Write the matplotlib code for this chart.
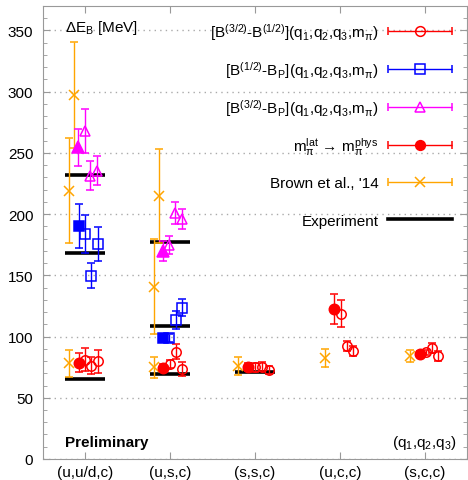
import numpy as np
import matplotlib
matplotlib.use("Agg")
import matplotlib.pyplot as plt
from matplotlib.lines import Line2D
from matplotlib.legend import Legend
from matplotlib.container import ErrorbarContainer
from matplotlib.legend_handler import HandlerErrorbar
from matplotlib.ticker import MultipleLocator

plt.rcParams['font.family'] = ['Liberation Sans', 'DejaVu Sans']
plt.rcParams['mathtext.default'] = 'regular'
plt.rcParams['font.size'] = 11

groups = ["(u,u/d,c)", "(u,s,c)", "(s,s,c)", "(u,c,c)", "(s,c,c)"]

# [B(3/2)-B(1/2)] open red circles
hs_x = [0.99, 1.07, 1.15, 2.00, 2.07, 2.14, 3.00, 3.08, 3.16, 4.01, 4.09, 4.16, 5.02, 5.09, 5.16]
hs_y = [81.1, 76.2, 79.8, 77.6, 87.7, 73.5, 74.9, 75.4, 72.7, 118.5, 92.0, 88.0, 87.2, 90.7, 84.4]
hs_e = [9.5, 7.0, 9.5, 3.0, 6.0, 6.0, 3.5, 3.5, 3.0, 11.0, 4.0, 4.0, 2.0, 4.0, 4.0]

# [B(1/2)-B_P] open blue squares
hp_x = [0.99, 1.07, 1.15, 1.98, 2.07, 2.14]
hp_y = [183.8, 149.8, 175.7, 98.9, 113.6, 123.4]
hp_e = [15.7, 10.0, 14.0, 3.0, 7.5, 7.0]

# [B(3/2)-B_P] open magenta triangles
tp_x = [1.00, 1.06, 1.14, 1.99, 2.06, 2.14]
tp_y = [268.2, 231.5, 235.5, 174.8, 201.0, 196.0]
tp_e = [18.0, 12.0, 11.7, 7.0, 9.0, 8.0]

# physical pion mass extrapolations (filled)
phys_red_x = [0.93, 1.92, 2.92, 3.93, 4.94]
phys_red_y = [78.7, 74.3, 75.2, 122.5, 85.8]
phys_red_e = [8.0, 3.0, 3.0, 12.5, 2.0]
phys_blue_x = [0.92, 1.91]
phys_blue_y = [190.6, 98.6]
phys_blue_e = [18.0, 3.0]
phys_mag_x = [0.91, 1.92]
phys_mag_y = [254.5, 169.7]
phys_mag_e = [15.0, 8.0]

# Brown et al. 2014
brown_x = [0.81, 0.87, 0.81, 1.87, 1.81, 1.81, 2.80, 3.83, 4.83]
brown_y = [219.2, 297.4, 78.2, 214.6, 140.8, 74.9, 76.2, 82.5, 84.4]
brown_e = [43.0, 43.0, 11.0, 38.5, 39.0, 8.6, 7.5, 7.0, 5.0]

# experiment
exp_x = [1, 1, 1, 2, 2, 2, 3]
exp_y = [232.3, 168.0, 65.0, 177.5, 108.4, 69.4, 71.3]
exp_hw = 0.235

labels = [r"[B$^{(3/2)}$-B$^{(1/2)}$](q$_1$,q$_2$,q$_3$,m$_π$)",
          r"[B$^{(1/2)}$-B$_P$](q$_1$,q$_2$,q$_3$,m$_π$)",
          r"[B$^{(3/2)}$-B$_P$](q$_1$,q$_2$,q$_3$,m$_π$)",
          r"m$_π^{lat}$ → m$_π^{phys}$",
          "Brown et al., '14",
          "Experiment"]

red, blue, mag, orange = "#ff0000", "#0000ff", "#ff00ff", "#ffa500"

fig = plt.figure(figsize=(4.68, 4.81), dpi=100)
ax = fig.add_axes([0.0919, 0.0437, 0.906, 0.9418])

eb = dict(linestyle="none", elinewidth=1.0, capsize=2.6, capthick=1.0, markeredgewidth=1.1)

ax.hlines(exp_y, np.array(exp_x) - exp_hw, np.array(exp_x) + exp_hw, colors="black", lw=2.6, zorder=2)

ax.errorbar(brown_x, brown_y, yerr=brown_e, color=orange, marker="x", ms=7, zorder=3, **eb)
ax.errorbar(hs_x, hs_y, yerr=hs_e, color=red, marker="o", ms=6.8, mfc="none", zorder=4, **eb)
ax.errorbar(hp_x, hp_y, yerr=hp_e, color=blue, marker="s", ms=6.8, mfc="none", zorder=4, **eb)
ax.errorbar(tp_x, tp_y, yerr=tp_e, color=mag, marker="^", ms=7.5, mfc="none", zorder=4, **eb)
ax.errorbar(phys_red_x, phys_red_y, yerr=phys_red_e, color=red, marker="o", ms=7.5, zorder=5, **eb)
ax.errorbar(phys_blue_x, phys_blue_y, yerr=phys_blue_e, color=blue, marker="s", ms=7.5, zorder=5, **eb)
ax.errorbar(phys_mag_x, phys_mag_y, yerr=phys_mag_e, color=mag, marker="^", ms=8, zorder=5, **eb)

# legend keys: gnuplot style horizontal error bars
key_specs = [(red, "o", "none"), (blue, "s", "none"), (mag, "^", "none"),
             (red, "o", red), (orange, "x", orange)]
handles = []
for c, m, fc in key_specs:
    handles.append(ax.errorbar([np.nan], [np.nan], xerr=[1], color=c, marker=m, ms=7,
                               mfc=fc, **eb))
handles.append(Line2D([], [], color="black", lw=2.6))

rows_y = [0.9433, 0.8594, 0.7764, 0.6916, 0.6093, 0.5260]
for h, lab, ry in zip(handles, labels, rows_y):
    leg = Legend(ax, [h], [lab], loc="center right", bbox_to_anchor=(0.9646, ry),
                 frameon=False, markerfirst=False, handlelength=4.2,
                 handletextpad=0.6, borderpad=0, borderaxespad=0, fontsize=11,
                 handler_map={ErrorbarContainer: HandlerErrorbar(xerr_size=2.1)})
    ax.add_artist(leg)

ax.set_xlim(0.5, 5.5)
ax.set_ylim(0, 370)
ax.set_xticks(range(1, 6))
ax.set_xticklabels(groups)
ax.yaxis.set_major_locator(MultipleLocator(50))
ax.yaxis.set_minor_locator(MultipleLocator(10))
ax.tick_params(which="both", direction="in", top=True, right=True, color="#999999")
ax.tick_params(which="major", length=5)
ax.tick_params(which="minor", length=3)
ax.tick_params(axis="y", pad=7)
ax.tick_params(axis="x", pad=4)
for s in ax.spines.values():
    s.set_color("#999999")
ax.yaxis.grid(True, color="#aaaaaa", linestyle=(0, (1, 3)), lw=1)
ax.set_axisbelow(True)

ax.text(0.052, 0.954, r"ΔE$_B$ [MeV]", transform=ax.transAxes, va="center", ha="left")
ax.text(0.052, 0.0375, "Preliminary", transform=ax.transAxes, va="center", ha="left",
        fontweight="bold")
ax.text(0.976, 0.0375, r"(q$_1$,q$_2$,q$_3$)", transform=ax.transAxes, va="center", ha="right")

fig.savefig("out.png", dpi=100)
